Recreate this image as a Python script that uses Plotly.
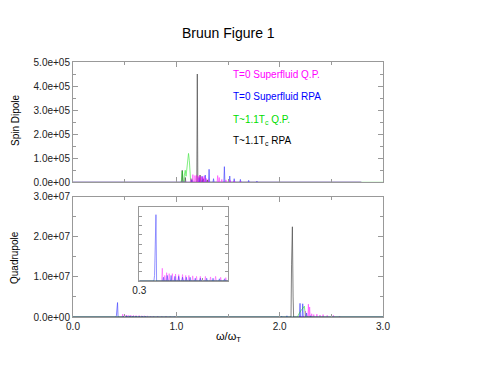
import plotly.graph_objects as go

# ---- data (omega/omega_T positions and heights of spectral spikes) ----
# Spin dipole (top panel)
sd_qp0_x = [1.14, 1.16, 1.18, 1.195, 1.21, 1.225, 1.24, 1.255, 1.27, 1.29, 1.31, 1.40, 1.415, 1.44, 1.48, 1.52, 1.56, 1.62]
sd_qp0_y = [1.5e4, 3.2e4, 2.8e4, 3.0e4, 2.6e4, 2.9e4, 2.4e4, 2.2e4, 2.7e4, 1.6e4, 1.2e4, 2.8e4, 2.0e4, 1.2e4, 1.0e4, 8e3, 6e3, 4e3]
sd_rpa0_x = [1.15, 1.22, 1.25, 1.28, 1.317, 1.36, 1.465, 1.517, 1.56, 1.62, 1.70, 1.78]
sd_rpa0_y = [1.0e4, 2.0e4, 2.5e4, 3.0e4, 5.4e4, 1.5e4, 6.5e4, 2.6e4, 1.5e4, 1.2e4, 8e3, 5e3]
sd_qpT_x = [1.05, 1.058, 1.066, 1.078, 1.086, 1.094, 1.102, 1.110, 1.118, 1.126, 1.134, 1.15, 1.25, 1.30]
sd_qpT_y = [1.0e4, 4.7e4, 1.0e4, 3.0e4, 5.0e4, 2.5e4, 6.0e4, 1.05e5, 1.2e5, 9.0e4, 2.0e4, 1.5e4, 1.0e4, 8e3]
sd_rpaT_x = [1.057, 1.087, 1.203, 1.23, 1.26, 1.30]
sd_rpaT_y = [5.0e4, 2.0e4, 4.5e5, 3.0e4, 1.5e4, 1.0e4]

# Quadrupole (bottom panel)
q_qp0_x = [0.481, 0.50, 0.515, 0.535, 0.56, 0.585, 0.61, 0.64, 0.665, 0.69, 0.72, 0.75, 0.78, 0.82, 0.86,
           0.90, 0.94, 0.98, 1.05, 1.15, 1.25, 1.40, 2.25, 2.278, 2.29, 2.31, 2.33, 2.36, 2.39, 2.42, 2.46, 2.52, 2.58]
q_qp0_y = [6.9e5, 3.0e5, 4.5e5, 4.0e5, 4.0e5, 3.8e5, 3.5e5, 3.5e5, 3.0e5, 3.0e5, 2.8e5, 2.5e5, 2.5e5, 2.5e5, 2.2e5,
           2.5e5, 2.0e5, 1.8e5, 1.2e5, 1.0e5, 8e4, 6e4, 1.5e6, 3.2e6, 2.5e6, 8e5, 6e5, 7e5, 5e5, 6e5, 4e5, 4e5, 2e5]
q_rpa0_x = [0.42, 0.431, 0.49, 0.52, 0.55, 0.58, 0.61, 0.64, 0.67, 0.70, 0.74, 0.78, 0.83, 0.88, 0.93, 0.97,
            1.10, 1.30, 1.60, 2.02, 2.07, 2.197, 2.223, 2.26, 2.30]
q_rpa0_y = [3.0e5, 3.6e6, 2.0e5, 3.0e5, 3.0e5, 2.5e5, 2.5e5, 2.0e5, 2.0e5, 2.0e5, 1.5e5, 1.5e5, 1.5e5, 1.5e5, 1.2e5, 1.2e5,
            8e4, 6e4, 5e4, 2e5, 3e5, 3.4e6, 3.3e6, 1.0e6, 3e5]
q_qpT_x = [0.087, 2.18, 2.19, 2.20, 2.21, 2.22, 2.23, 2.239, 2.246]
q_qpT_y = [1.0e5, 5e5, 1.0e6, 1.2e6, 1.8e6, 2.0e6, 2.3e6, 2.7e6, 1.0e6]
q_rpaT_x = [2.115, 2.123, 2.13]
q_rpaT_y = [1.3e7, 2.25e7, 5e6]

names = ["T=0 Superfluid Q.P.", "T=0 Superfluid RPA", "T~1.1T<sub>c</sub> Q.P.", "T~1.1T<sub>c</sub> RPA"]
colors = ["#ff00ff", "#0000ff", "#00dd00", "#000000"]

HW = 0.005  # half width of each spike (style)


def spikes(px, py, x_end):
    xs, ys = [0.0], [0.0]
    prev = None
    for x, y in zip(px, py):
        if prev is None or x - prev > 2.4 * HW:
            if prev is not None:
                xs.append(prev + HW)
                ys.append(0.0)
            xs.append(x - HW)
            ys.append(0.0)
        xs.append(x)
        ys.append(y)
        prev = x
    if prev is not None:
        xs.append(prev + HW)
        ys.append(0.0)
    xs.append(x_end)
    ys.append(0.0)
    return xs, ys


fig = go.Figure()

top = [(sd_qp0_x, sd_qp0_y, 2.79), (sd_rpa0_x, sd_rpa0_y, 2.79), (sd_qpT_x, sd_qpT_y, 3.0), (sd_rpaT_x, sd_rpaT_y, 2.79)]
bot = [(q_qp0_x, q_qp0_y, 3.0), (q_rpa0_x, q_rpa0_y, 3.0), (q_qpT_x, q_qpT_y, 3.0), (q_rpaT_x, q_rpaT_y, 3.0)]
top_order = [3, 2, 1, 0]
bot_order = [0, 1, 3, 2]

for i in top_order:
    px, py, xe = top[i]
    xs, ys = spikes(px, py, xe)
    fig.add_trace(go.Scatter(x=xs, y=ys, mode="lines", line=dict(color=colors[i], width=0.7), opacity=0.7,
                             name=names[i], xaxis="x", yaxis="y", showlegend=False))
for i in bot_order:
    px, py, xe = bot[i]
    xs, ys = spikes(px, py, xe)
    fig.add_trace(go.Scatter(x=xs, y=ys, mode="lines", line=dict(color=colors[i], width=0.7), opacity=0.7,
                             name=names[i], xaxis="x2", yaxis="y2", showlegend=False))
# inset traces (quadrupole zoom)
for i in bot_order:
    px, py, xe = bot[i]
    xs, ys = spikes(px, py, xe)
    fig.add_trace(go.Scatter(x=xs, y=ys, mode="lines", line=dict(color=colors[i], width=0.7), opacity=0.6,
                             name=names[i], xaxis="x3", yaxis="y3", showlegend=False))

# page body adds an 8px offset; compensate so the plot lands where the reference has it
OFF = 8
L, R, T, B = 73 - OFF, 105, 62 - OFF, 55
W, H = 488 - OFF, 372 - OFF
PW, PH = W - L - R, H - T - B


def xp(px):
    return (px - OFF - L) / PW


def yp(py):
    return (H - B - (py - OFF)) / PH


axcol = "#999999"
tickfont = dict(family="Liberation Sans, Arial, sans-serif", size=10, color="#222")
common = dict(showgrid=False, zeroline=False, showline=True, linecolor=axcol, linewidth=1,
              mirror="allticks", ticks="inside", ticklen=5, tickcolor=axcol, tickfont=tickfont)

top_vals = [0, 1e5, 2e5, 3e5, 4e5, 5e5]
top_text = ["0.0e+00", "1.0e+05", "2.0e+05", "3.0e+05", "4.0e+05", "5.0e+05"]
bot_vals = [0, 1e7, 2e7, 3e7]
bot_text = ["0.0e+00", "1.0e+07", "2.0e+07", "3.0e+07"]
x_vals = [0, 1, 2, 3]
x_text = ["0.0", "1.0", "2.0", "3.0"]

fig.update_layout(
    width=W, height=H, margin=dict(l=L, r=R, t=T, b=B),
    paper_bgcolor="white", plot_bgcolor="white",
    xaxis=dict(domain=[0, 1], range=[0, 3], anchor="y", tickvals=x_vals, showticklabels=False,
               minor=dict(dtick=0.5, ticks="inside", ticklen=3, tickcolor=axcol), **common),
    yaxis=dict(domain=[yp(182.3), 1], range=[0, 5e5], anchor="x", tickvals=top_vals, ticktext=top_text,
               minor=dict(dtick=5e4, ticks="inside", ticklen=3, tickcolor=axcol), **common),
    xaxis2=dict(domain=[0, 1], range=[0, 3], anchor="y2", tickvals=x_vals, ticktext=x_text,
                minor=dict(dtick=0.5, ticks="inside", ticklen=3, tickcolor=axcol), **common),
    yaxis2=dict(domain=[0, yp(196.7)], range=[0, 3e7], anchor="x2", tickvals=bot_vals, ticktext=bot_text,
                minor=dict(dtick=5e6, ticks="inside", ticklen=3, tickcolor=axcol), **common),
    xaxis3=dict(domain=[xp(139.3), xp(228.3)], range=[0.3, 1.0], anchor="y3", tickvals=[0.3, 0.8],
                ticktext=["0.3", " "], **common),
    yaxis3=dict(domain=[yp(281), yp(207.3)], range=[0, 4e6], anchor="x3", dtick=5e5, showticklabels=False,
                **common),
)
fig.update_layout(xaxis3_ticklen=3, yaxis3_ticklen=3)

font = "Liberation Sans, Arial, sans-serif"
ann = [
    dict(text="Bruun Figure 1", x=xp(228), y=yp(33), size=14, color="#000", angle=0),
    dict(text="Spin Dipole", x=xp(15), y=yp(120), size=10, color="#000", angle=-90),
    dict(text="Quadrupole", x=xp(15), y=yp(258), size=10, color="#000", angle=-90),
    dict(text="ω/ω<sub>T</sub>", x=xp(229), y=yp(337), size=11, color="#000", angle=0),
]
for a in ann:
    fig.add_annotation(text=a["text"], x=a["x"], y=a["y"], xref="paper", yref="paper", showarrow=False,
                       textangle=a["angle"], font=dict(family=font, size=a["size"], color=a["color"]),
                       xanchor="center", yanchor="middle")

leg_y = [74.3, 97, 120.3, 140.7]
for n, c, py in zip(names, colors, leg_y):
    fig.add_annotation(text=n, x=xp(231), y=yp(py), xref="paper", yref="paper", showarrow=False,
                       font=dict(family=font, size=10, color=c), xanchor="left", yanchor="middle")

fig.write_html("out.html")
